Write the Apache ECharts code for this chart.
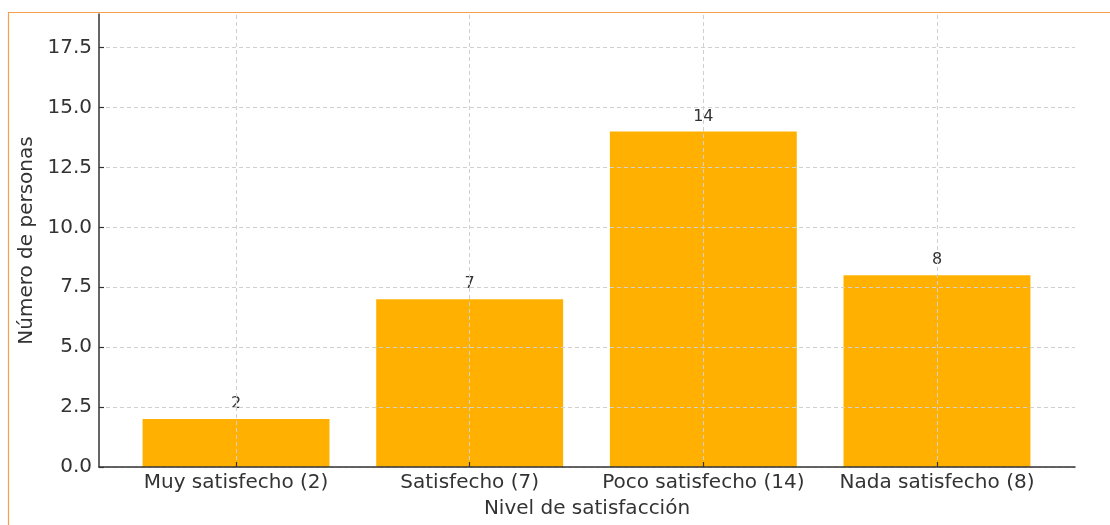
<!DOCTYPE html>
<html><head><meta charset="utf-8">
<script src="https://cdn.jsdelivr.net/npm/echarts@6/dist/echarts.min.js"></script>
<style>html,body{margin:0;padding:0;background:#fff}#c{width:1110px;height:525px}</style>
</head><body><div id="c"></div>
<script>
const categories = ['Muy satisfecho (2)', 'Satisfecho (7)', 'Poco satisfecho (14)', 'Nada satisfecho (8)'];
const values = [2, 7, 14, 8];
const yTicks = [0, 2.5, 5, 7.5, 10, 12.5, 15, 17.5];
const yMax = 18.9;

const font = 'DejaVu Sans';
const grid = '#d0d0d0';
const axisCol = '#333333';
const chart = echarts.init(document.getElementById('c'));
chart.setOption({
  animation: false,
  graphic: [
    { type: 'line', shape: { x1: 8, y1: 12.5, x2: 1110, y2: 12.5 }, style: { stroke: '#F5A04E', lineWidth: 1.2 }, z: 100 },
    { type: 'line', shape: { x1: 8.5, y1: 12, x2: 8.5, y2: 525 }, style: { stroke: '#F5A04E', lineWidth: 1.2 }, z: 100 }
  ],
  grid: [
    { left: 99, right: 35, top: 14, bottom: 58 },
    { left: 119.2, right: 56.2, top: 14, bottom: 58 }
  ],
  xAxis: [
    { type: 'value', gridIndex: 0, min: 0, max: 1, z: 6,
      axisLine: { show: true, lineStyle: { color: axisCol, width: 1.5 } },
      axisTick: { show: false }, axisLabel: { show: false }, splitLine: { show: false },
      name: 'Nivel de satisfacción', nameLocation: 'middle', nameGap: 32,
      nameTextStyle: { fontFamily: font, fontSize: 20, color: '#333' } },
    { type: 'category', gridIndex: 1, data: categories, z: 6,
      axisLine: { show: false },
      axisTick: { show: true, alignWithLabel: true, inside: true, length: 5, lineStyle: { color: axisCol, width: 1.2 } },
      axisLabel: { interval: 0, margin: 6, fontFamily: font, fontSize: 20, color: '#333' },
      splitLine: { show: false } }
  ],
  yAxis: [
    { type: 'value', gridIndex: 0, min: 0, max: yMax, interval: 2.5, z: 6,
      axisLine: { show: true, lineStyle: { color: axisCol, width: 1.5 } },
      axisTick: { show: true, inside: true, length: 5, customValues: yTicks, lineStyle: { color: axisCol, width: 1.2 } },
      axisLabel: { customValues: yTicks, margin: 7, fontFamily: font, fontSize: 20, color: '#333',
        formatter: v => v.toFixed(1) },
      splitLine: { show: true, lineStyle: { type: [4, 3], width: 1,
        color: [grid, grid, grid, grid, grid, grid, grid, grid, 'rgba(0,0,0,0)'] } },
      name: 'Número de personas', nameLocation: 'middle', nameGap: 58,
      nameTextStyle: { fontFamily: font, fontSize: 20, color: '#333' } },
    { type: 'value', gridIndex: 1, min: 0, max: yMax, show: false, splitLine: { show: false } }
  ],
  series: [{
    type: 'bar', xAxisIndex: 1, yAxisIndex: 1, data: values,
    barCategoryGap: '20%',
    itemStyle: { color: '#FFB000' },
    label: { show: true, position: 'top', distance: 7, fontFamily: font, fontSize: 16, color: '#333' },
    markLine: {
      silent: true, symbol: 'none', z: 5, label: { show: false },
      lineStyle: { color: grid, type: [4, 3], width: 1 },
      data: categories.map(c => ({ xAxis: c }))
    }
  }]
});
</script></body></html>
